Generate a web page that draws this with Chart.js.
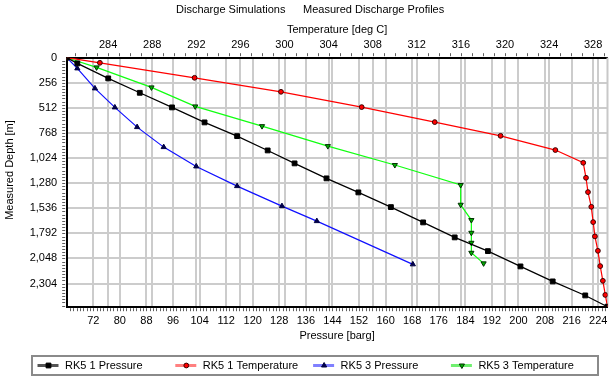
<!DOCTYPE html>
<html>
<head>
<meta charset="utf-8">
<script src="https://cdn.jsdelivr.net/npm/chart.js@4/dist/chart.umd.min.js"></script>
<style>
html,body{margin:0;padding:0;background:#fff;}
#wrap{width:615px;height:381px;position:relative;}
</style>
</head>
<body>
<div id="wrap"><canvas id="c" width="615" height="381"></canvas></div>
<script>
const FONT = "'Liberation Sans', Arial, Helvetica, sans-serif";

// ---- tick labels ----
const pressureTicks = [72, 80, 88, 96, 104, 112, 120, 128, 136, 144, 152, 160, 168, 176, 184, 192, 200, 208, 216, 224];
const temperatureTicks = [284, 288, 292, 296, 300, 304, 308, 312, 316, 320, 324, 328];
const depthTicks = [0, 256, 512, 768, 1024, 1280, 1536, 1792, 2048, 2304];

// ---- axis ranges ----
const pressureRange = [64, 226.8];
const temperatureRange = [280.24, 329.3];
const depthRange = [0, 2540];

// ---- series ----
const seriesNames = ['RK5 1 Pressure', 'RK5 1 Temperature', 'RK5 3 Pressure', 'RK5 3 Temperature'];

const rk51Pressure = [64, 67.2, 76.5, 86.0, 95.7, 105.5, 115.3, 124.5, 132.6, 142.2, 151.8, 161.6, 171.3, 180.8, 190.8, 200.6, 210.3, 220.1, 226.8];
const rk51PressureDepth = [0, 58, 211, 358, 507, 660, 800, 946, 1078, 1231, 1374, 1524, 1680, 1833, 1973, 2129, 2282, 2425, 2540];

const rk51Temperature = [280.24, 283.25, 291.84, 299.68, 307.0, 313.63, 319.6, 324.57, 327.1, 327.35, 327.53, 327.83, 328.0, 328.16, 328.43, 328.64, 328.88, 329.1, 329.3];
const rk51TemperatureDepth = [0, 52, 205, 348, 504, 657, 797, 942, 1072, 1225, 1371, 1521, 1677, 1823, 1970, 2126, 2276, 2420, 2540];

const rk53Pressure = [64, 67.2, 72.5, 78.5, 85.2, 93.2, 103.0, 115.3, 128.8, 139.3, 168.2];
const rk53PressureDepth = [0, 109, 313, 507, 708, 912, 1109, 1310, 1514, 1667, 2108];

const rk53Temperature = [280.24, 282.95, 287.93, 291.9, 297.96, 303.93, 310.01, 315.98, 315.98, 316.95, 316.95, 316.95, 316.95, 318.06];
const rk53TemperatureDepth = [0, 99, 303, 497, 698, 902, 1095, 1299, 1500, 1656, 1786, 1888, 1990, 2098];

const pts = (xs, ys) => xs.map((x, i) => ({ x: x, y: ys[i] }));

const styles = [
  { line: '#000000', legendLine: '#555555', style: 'rect', radius: 3.4, rot: 0, fill: '#000000', edge: '#000000' },
  { line: '#ff0000', legendLine: '#ff8080', style: 'circle', radius: 2.4, rot: 0, fill: '#ff0000', edge: '#3a0000' },
  { line: '#1010ff', legendLine: '#8080ff', style: 'triangle', radius: 3.0, rot: 0, fill: '#000050', edge: '#000040' },
  { line: '#10ff10', legendLine: '#70f070', style: 'triangle', radius: 3.0, rot: 180, fill: '#00b000', edge: '#003000' }
];

function ds(i, data, xAxis) {
  const s = styles[i];
  return {
    label: seriesNames[i], data: data, xAxisID: xAxis, yAxisID: 'y', showLine: true,
    borderColor: s.line, borderWidth: 1.2, backgroundColor: s.fill,
    pointStyle: s.style, pointRadius: s.radius, pointRotation: s.rot,
    pointBackgroundColor: s.fill, pointBorderColor: s.edge, pointBorderWidth: 1,
    pointHoverRadius: s.radius, tension: 0
  };
}

const tickFont = { family: FONT, size: 11 };

const decor = {
  id: 'decor',
  beforeDatasetsDraw(chart) {
    const c = chart.ctx, a = chart.chartArea;
    c.save();
    c.strokeStyle = '#c8c8c8'; c.lineWidth = 2;
    c.beginPath(); c.moveTo(a.right, a.top); c.lineTo(a.right, a.bottom); c.stroke();
    c.restore();
  },
  afterDraw(chart) {
    const c = chart.ctx, a = chart.chartArea;
    const sx = chart.scales.x, st = chart.scales.x2, sy = chart.scales.y;
    c.save();
    // minor ticks
    c.strokeStyle = '#606060'; c.lineWidth = 1;
    c.beginPath();
    for (let v = Math.ceil(sx.min) + 1; v < sx.max; v++) {
      const p = Math.round(sx.getPixelForValue(v)) + 0.5;
      c.moveTo(p, a.bottom + 1.5); c.lineTo(p, a.bottom + 4.5);
    }
    for (let v = Math.ceil(st.min); v < st.max; v++) {
      const p = Math.round(st.getPixelForValue(v)) + 0.5;
      c.moveTo(p, a.top - 1.5); c.lineTo(p, a.top - 4.5);
    }
    for (let v = 32; v < sy.max; v += 32) {
      const p = Math.round(sy.getPixelForValue(v)) + 0.5;
      c.moveTo(a.left - 1.5, p); c.lineTo(a.left - 4.5, p);
    }
    c.stroke();

    // titles
    c.fillStyle = '#000';
    c.font = '11px ' + FONT;
    c.textBaseline = 'middle';
    c.textAlign = 'left';
    c.fillText('Discharge Simulations', 176, 10);
    c.fillText('Measured Discharge Profiles', 303, 10);

    // y title
    c.save();
    c.translate(10, 170);
    c.rotate(-Math.PI / 2);
    c.textAlign = 'center';
    c.fillText('Measured Depth [m]', 0, 0);
    c.restore();

    // legend
    c.strokeStyle = '#8a8a8a'; c.lineWidth = 2;
    c.strokeRect(32, 356, 566, 19);
    const ly = 365.5;
    chart.data.datasets.forEach((d, i) => {
      const s = styles[i];
      const x0 = 37.5 + i * 137.8;
      c.strokeStyle = s.legendLine; c.lineWidth = 3;
      c.beginPath(); c.moveTo(x0, ly); c.lineTo(x0 + 21, ly); c.stroke();
      c.fillStyle = s.fill; c.strokeStyle = s.edge; c.lineWidth = 1;
      Chart.helpers.drawPoint(c, { pointStyle: s.style, radius: s.radius, rotation: s.rot, borderWidth: 1 }, x0 + 11, ly);
      c.fillStyle = '#000';
      c.textAlign = 'left';
      c.fillText(d.label, x0 + 27.5, ly);
    });
    c.restore();
  }
};

new Chart(document.getElementById('c'), {
  type: 'scatter',
  data: {
    datasets: [
      ds(0, pts(rk51Pressure, rk51PressureDepth), 'x'),
      ds(1, pts(rk51Temperature, rk51TemperatureDepth), 'x2'),
      ds(2, pts(rk53Pressure, rk53PressureDepth), 'x'),
      ds(3, pts(rk53Temperature, rk53TemperatureDepth), 'x2')
    ]
  },
  options: {
    responsive: false, animation: false, devicePixelRatio: 1,
    layout: { padding: { top: 18, left: 0, right: 5.7, bottom: 35 } },
    plugins: { legend: { display: false }, tooltip: { enabled: false }, title: { display: false } },
    scales: {
      x: {
        type: 'linear', axis: 'x', position: 'bottom',
        min: pressureRange[0], max: pressureRange[1],
        afterBuildTicks: s => { s.ticks = pressureTicks.map(v => ({ value: v })); },
        afterFit: s => { s.height = 39.3; },
        grid: { color: '#cccccc', lineWidth: 2, drawTicks: false },
        border: { color: '#000', width: 2 },
        ticks: { padding: 7.5, font: tickFont, color: '#000', maxRotation: 0, autoSkip: false, callback: v => String(v) },
        title: { display: true, text: 'Pressure [barg]', font: tickFont, color: '#000', padding: { top: 0, bottom: 3 } }
      },
      x2: {
        type: 'linear', axis: 'x', position: 'top',
        min: temperatureRange[0], max: temperatureRange[1],
        afterBuildTicks: s => { s.ticks = temperatureTicks.map(v => ({ value: v })); },
        afterFit: s => { s.height = 39.7; },
        grid: { color: '#cccccc', lineWidth: 2, drawTicks: false },
        border: { color: '#000', width: 2 },
        ticks: { padding: 6.5, font: tickFont, color: '#000', maxRotation: 0, autoSkip: false, callback: v => String(v) },
        title: { display: true, text: 'Temperature [deg C]', font: tickFont, color: '#000', padding: { top: 5.5, bottom: 0 } }
      },
      y: {
        type: 'linear', axis: 'y', position: 'left', reverse: true,
        min: depthRange[0], max: depthRange[1],
        afterBuildTicks: s => { s.ticks = depthTicks.map(v => ({ value: v })); },
        afterFit: s => { s.width = 66.7; },
        grid: { color: '#cccccc', lineWidth: 2, drawTicks: false },
        border: { color: '#000', width: 2 },
        ticks: { padding: 9.5, font: tickFont, color: '#000', autoSkip: false, callback: v => v.toLocaleString('en-US') },
        title: { display: false }
      }
    }
  },
  plugins: [decor]
});
</script>
</body>
</html>
